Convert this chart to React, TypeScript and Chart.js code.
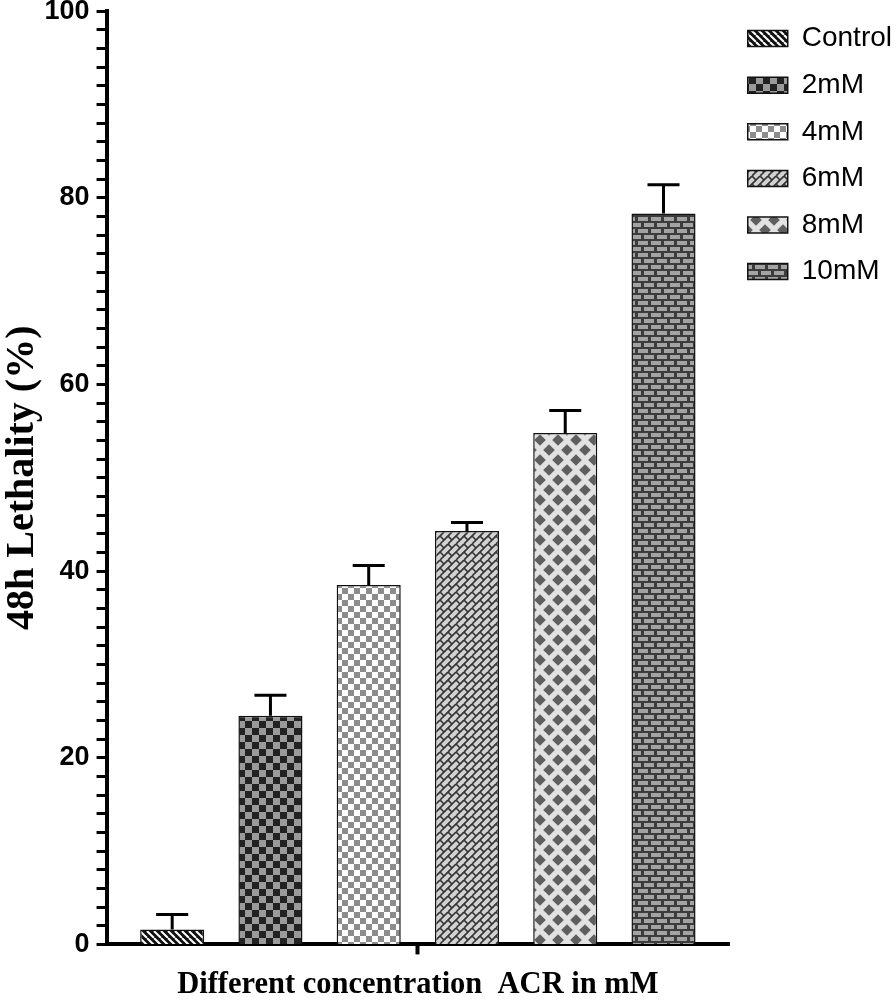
import React, { useEffect, useRef } from 'react';
import { Chart, registerables } from 'chart.js';

Chart.register(...registerables);

// ---- data ----
const groups = ['Control', '2mM', '4mM', '6mM', '8mM', '10mM'];
const categories = [''];
const meanLethality = [1.6, 24.5, 38.5, 44.3, 54.8, 78.3];
const errLethality = [1.6, 2.2, 2.1, 0.9, 2.4, 3.1];
const yMin = 0;
const yMax = 100;
const yMajorStep = 20;
const yMinorStep = 2;
const xTitle = 'Different concentration  ACR in mM';
const yTitle = '48h Lethality (%)';

const SANS = '"Liberation Sans", Arial, Helvetica, sans-serif';
const SERIF = '"Liberation Serif", "Times New Roman", Times, serif';

type Draw = (g: CanvasRenderingContext2D, w: number, h: number) => void;

function tile(w: number, h: number, draw: Draw): CanvasPattern | string {
  const c = document.createElement('canvas');
  c.width = w;
  c.height = h;
  const g = c.getContext('2d');
  if (!g) return '#888';
  draw(g, w, h);
  return g.createPattern(c, 'repeat') || '#888';
}

function wrapSeg(g: CanvasRenderingContext2D, w: number, h: number, x1: number, y1: number, x2: number, y2: number) {
  for (const dx of [-w, 0, w]) {
    for (const dy of [-h, 0, h]) {
      g.beginPath();
      g.moveTo(x1 + dx, y1 + dy);
      g.lineTo(x2 + dx, y2 + dy);
      g.stroke();
    }
  }
}

function wrapRect(g: CanvasRenderingContext2D, w: number, h: number, x: number, y: number, rw: number, rh: number) {
  for (const dx of [-w, 0, w]) {
    for (const dy of [-h, 0, h]) {
      g.fillRect(x + dx, y + dy, rw, rh);
    }
  }
}

function wrapDiamond(g: CanvasRenderingContext2D, w: number, h: number, cx: number, cy: number, r: number) {
  for (const dx of [-w, 0, w]) {
    for (const dy of [-h, 0, h]) {
      g.beginPath();
      g.moveTo(cx + dx, cy + dy - r);
      g.lineTo(cx + dx + r, cy + dy);
      g.lineTo(cx + dx, cy + dy + r);
      g.lineTo(cx + dx - r, cy + dy);
      g.closePath();
      g.fill();
    }
  }
}

function makePatterns() {
  const control = tile(7, 7, (g, w, h) => {
    g.fillStyle = '#111';
    g.fillRect(0, 0, w, h);
    g.strokeStyle = '#fff';
    g.lineWidth = 2;
    for (const k of [-1, 0, 1]) {
      g.beginPath();
      g.moveTo(k * w, 0);
      g.lineTo(k * w + w, h);
      g.stroke();
    }
  });
  const mm2 = tile(14, 14, (g) => {
    g.fillStyle = '#222';
    g.fillRect(0, 0, 14, 14);
    g.fillStyle = '#9a9a9a';
    g.fillRect(7, 0, 7, 7);
    g.fillRect(0, 7, 7, 7);
  });
  const mm4 = tile(12, 12, (g) => {
    g.fillStyle = '#fff';
    g.fillRect(0, 0, 12, 12);
    g.fillStyle = '#8c8c8c';
    g.fillRect(6, 0, 6, 6);
    g.fillRect(0, 6, 6, 6);
  });
  const mm6 = tile(16, 16, (g, w, h) => {
    g.fillStyle = '#d2d2d2';
    g.fillRect(0, 0, w, h);
    g.strokeStyle = '#333';
    g.lineWidth = 1.6;
    for (const c of [-16, -8, 0, 8, 16, 24, 32, 40]) {
      g.beginPath();
      g.moveTo(c, 0);
      g.lineTo(c - 16, 16);
      g.stroke();
    }
    wrapSeg(g, w, h, 0, 0, 4, 4);
    wrapSeg(g, w, h, 8, 8, 12, 12);
    wrapSeg(g, w, h, 8, 0, 12, 4);
    wrapSeg(g, w, h, 0, 8, 4, 12);
  });
  const mm8 = tile(18, 20, (g, w, h) => {
    g.fillStyle = '#e2e2e2';
    g.fillRect(0, 0, w, h);
    g.fillStyle = '#5f5f5f';
    wrapDiamond(g, w, h, 0, 0, 5.8);
    wrapDiamond(g, w, h, 9, 10, 5.8);
  });
  const mm10 = tile(13, 12, (g, w, h) => {
    g.fillStyle = '#3c3c3c';
    g.fillRect(0, 0, w, h);
    g.fillStyle = '#a3a3a3';
    wrapRect(g, w, h, 1, 1, 10, 4);
    wrapRect(g, w, h, 7, 7, 10, 4);
  });
  return [control, mm2, mm4, mm6, mm8, mm10];
}

const errorBarPlugin = {
  id: 'errorBars',
  afterDatasetsDraw(chart: any) {
    const { ctx } = chart;
    const yScale = chart.scales.y;
    chart.data.datasets.forEach((ds: any, i: number) => {
      const meta = chart.getDatasetMeta(i);
      if (meta.hidden) return;
      meta.data.forEach((bar: any, j: number) => {
        const v = ds.data[j];
        const e = ds.errors[j];
        const top = yScale.getPixelForValue(v + e);
        const half = bar.width / 4;
        ctx.save();
        ctx.strokeStyle = '#000';
        ctx.lineWidth = 3;
        ctx.beginPath();
        ctx.moveTo(bar.x, bar.y);
        ctx.lineTo(bar.x, top);
        ctx.moveTo(bar.x - half, top);
        ctx.lineTo(bar.x + half, top);
        ctx.stroke();
        ctx.restore();
      });
    });
  },
};

export default function App() {
  const ref = useRef<HTMLCanvasElement | null>(null);

  useEffect(() => {
    if (!ref.current) return;
    const patterns = makePatterns();
    const datasets = groups.map((g, i) => ({
      label: g,
      data: [meanLethality[i]],
      errors: [errLethality[i]],
      backgroundColor: patterns[i],
      borderColor: '#111',
      borderWidth: 1.5,
      categoryPercentage: 0.947,
      barPercentage: 0.652,
    }));
    const chart = new Chart(ref.current, {
      type: 'bar',
      data: { labels: categories, datasets: datasets as any },
      options: {
        responsive: false,
        animation: false,
        layout: { padding: { top: 6, right: -6, bottom: 0, left: 0 } },
        plugins: {
          legend: {
            position: 'right',
            align: 'start',
            labels: {
              boxWidth: 40,
              boxHeight: 16,
              padding: 18.6,
              color: '#000',
              font: { family: SANS, size: 28 },
            },
          },
          tooltip: { enabled: false },
        },
        scales: {
          x: {
            type: 'category',
            offset: true,
            grid: {
              display: true,
              drawOnChartArea: false,
              drawTicks: true,
              tickLength: 10,
              tickWidth: 4,
              tickColor: '#000',
              offset: false,
            },
            border: { display: true, color: '#000', width: 4 },
            ticks: { display: false },
            title: {
              display: true,
              text: xTitle,
              color: '#000',
              font: { family: SERIF, size: 30.5, weight: 'bold' },
              padding: { top: 12, bottom: -2 },
            },
          },
          y: {
            min: yMin,
            max: yMax,
            grid: {
              drawOnChartArea: false,
              drawTicks: true,
              tickLength: 10,
              tickWidth: 3,
              tickColor: '#000',
            },
            border: { display: true, color: '#000', width: 4 },
            ticks: {
              stepSize: yMinorStep,
              autoSkip: false,
              padding: 7,
              color: '#000',
              font: { family: SANS, size: 27, weight: 'bold', lineHeight: 0.3 },
              callback: (v: any) => (Number(v) % yMajorStep === 0 ? String(v) : ''),
            },
            title: {
              display: true,
              text: yTitle,
              color: '#000',
              font: { family: SERIF, size: 40, weight: 'bold', lineHeight: 0.75 },
              padding: { top: 7.5, bottom: 0 },
            },
          },
        },
      } as any,
      plugins: [errorBarPlugin],
    });
    return () => chart.destroy();
  }, []);

  return (
    <div style={{ position: 'absolute', left: 0, top: 0, width: 896, height: 1001, background: '#fff' }}>
      <canvas ref={ref} width={896} height={1001} style={{ display: 'block' }} />
    </div>
  );
}
